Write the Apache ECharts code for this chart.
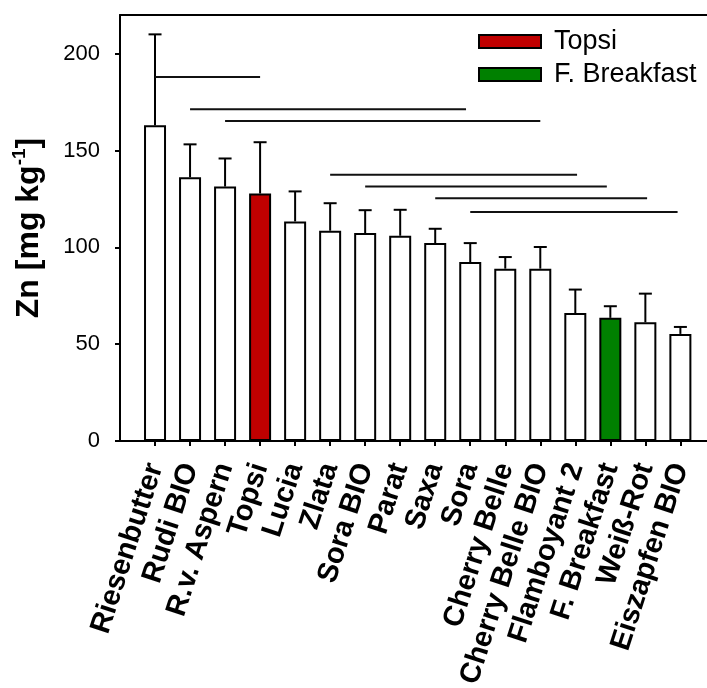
<!DOCTYPE html>
<html><head><meta charset="utf-8">
<script src="https://cdn.jsdelivr.net/npm/echarts@6/dist/echarts.min.js"></script>
<style>html,body{margin:0;padding:0;background:#fff}#c{width:707px;height:688px}</style>
</head><body><div id="c"></div>
<script>
// ---- data ----
const categories = ['Riesenbutter','Rudi BIO','R.v. Aspern','Topsi','Lucia','Zlata','Sora BIO','Parat','Saxa','Sora','Cherry Belle','Cherry Belle BIO','Flamboyant 2','F. Breakfast','Weiß-Rot','Eiszapfen BIO'];
const means  = [163, 136.2, 131.4, 127.8, 113.4, 108.6, 107.4, 106.0, 102.2, 92.4, 89.0, 89.0, 66.1, 63.6, 61.3, 55.3];
const errors = [47, 17, 14.5, 26.5, 15.5, 14.2, 11.8, 13.4, 7.4, 9.8, 6.0, 11.2, 12.1, 6.0, 14.8, 3.6];
const yTicks = [0, 50, 100, 150, 200];
// significance lines: from category position to category position at a given Zn level
const sigStart = [1, 2, 3, 6, 7, 9, 10];
const sigEnd   = [4, 9.88, 12, 13.05, 13.9, 15.05, 15.92];
const sigY     = [188, 171.3, 165.3, 137.5, 131.4, 125.3, 118.2];
const legendNames = ['Topsi', 'F. Breakfast'];

// ---- styling ----
const FONT = 'Arial, "Liberation Sans", sans-serif';
const highlight = { 'Topsi': '#c00000', 'F. Breakfast': '#008000' };

const positions = categories.map((_, i) => i + 1);
const plain = [], special = {};
legendNames.forEach(n => special[n] = []);
categories.forEach((c, i) => {
  if (highlight[c]) special[c].push([i + 1, means[i]]);
  else plain.push([i + 1, means[i]]);
});

const barBase = {
  type: 'bar', barWidth: 22, barGap: '-100%', xAxisIndex: 0, yAxisIndex: 0,
  z: 2
};

const chart = echarts.init(document.getElementById('c'), null, { renderer: 'canvas' });
chart.setOption({
  animation: false,
  backgroundColor: '#ffffff',
  grid: { left: 120, right: 0, top: 15, bottom: 247, containLabel: false, outerBoundsMode: 'none' },
  legend: {
    data: legendNames, orient: 'vertical', left: 478, top: 28, padding: 0,
    itemWidth: 62, itemHeight: 13, itemGap: 6, icon: 'rect',
    itemStyle: { borderColor: '#000', borderWidth: 2 },
    textStyle: { fontFamily: FONT, fontSize: 27, color: '#000', lineHeight: 27, padding: [0, 0, 0, 8] }
  },
  xAxis: [{
    type: 'value', min: 0, max: 16.76, position: 'bottom',
    splitLine: { show: false },
    axisLine: { show: true, onZero: false, lineStyle: { color: '#000', width: 2 } },
    axisTick: { show: true, length: 5, lineStyle: { color: '#000', width: 2 }, customValues: positions },
    axisLabel: {
      customValues: positions, rotate: 72, margin: 23,
      formatter: v => categories[Math.round(v) - 1] || '',
      fontFamily: FONT, fontSize: 29, fontWeight: 'bold', color: '#000'
    }
  }, {
    type: 'value', min: 0, max: 16.76, position: 'top',
    splitLine: { show: false },
    axisLine: { show: true, onZero: false, lineStyle: { color: '#000', width: 2 } },
    axisTick: { show: false }, axisLabel: { show: false }
  }],
  yAxis: {
    type: 'value', min: 0, max: 220,
    splitLine: { show: false },
    axisLine: { show: true, lineStyle: { color: '#000', width: 2 } },
    axisTick: { show: true, length: 5, lineStyle: { color: '#000', width: 2 }, customValues: yTicks },
    axisLabel: { customValues: yTicks, margin: 20, fontFamily: FONT, fontSize: 22, color: '#000' },
    name: '{b|Zn [mg kg}{s|-1}{b|]}',
    nameLocation: 'middle', nameRotate: 90, nameGap: 72,
    nameTextStyle: {
      rich: {
        b: { fontFamily: FONT, fontSize: 32, fontWeight: 'bold', color: '#000', lineHeight: 38 },
        s: { fontFamily: FONT, fontSize: 19, fontWeight: 'bold', color: '#000', verticalAlign: 'top', lineHeight: 19 }
      }
    }
  },
  series: [
    Object.assign({}, barBase, {
      name: 'values', data: plain,
      itemStyle: { color: '#ffffff', borderColor: '#000', borderWidth: 2 }
    }),
    ...legendNames.map(n => Object.assign({}, barBase, {
      name: n, data: special[n],
      itemStyle: { color: highlight[n], borderColor: '#000', borderWidth: 2 }
    })),
    {
      type: 'custom', name: 'err', z: 3, clip: false,
      data: categories.map((_, i) => [i + 1, means[i], errors[i]]),
      encode: { x: 0, y: 1 },
      renderItem: (params, api) => {
        const x = api.value(0), v = api.value(1), e = api.value(2);
        const p0 = api.coord([x, v]);
        const p1 = api.coord([x, v + e]);
        const style = { stroke: '#000', lineWidth: 2 };
        return {
          type: 'group', children: [
            { type: 'line', shape: { x1: p0[0], y1: p0[1], x2: p1[0], y2: p1[1] }, style },
            { type: 'line', shape: { x1: p1[0] - 6.5, y1: p1[1], x2: p1[0] + 6.5, y2: p1[1] }, style }
          ]
        };
      }
    },
    {
      type: 'custom', name: 'sig', z: 3, clip: false,
      data: sigStart.map((s, i) => [s, sigEnd[i], sigY[i]]),
      encode: { x: [0, 1], y: 2 },
      renderItem: (params, api) => {
        const a = api.coord([api.value(0), api.value(2)]);
        const b = api.coord([api.value(1), api.value(2)]);
        return { type: 'line', shape: { x1: a[0], y1: a[1], x2: b[0], y2: b[1] },
                 style: { stroke: '#111', lineWidth: 2 } };
      }
    }
  ]
});
</script></body></html>
